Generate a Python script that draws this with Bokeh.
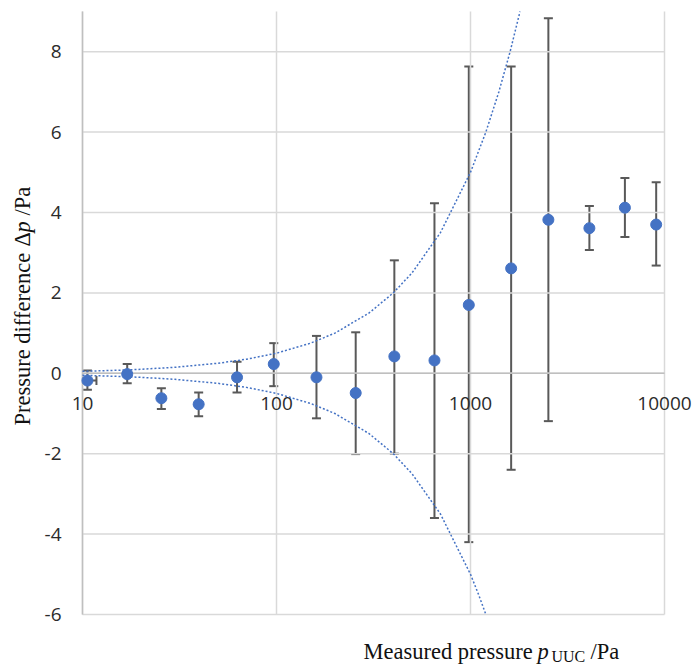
import math
from bokeh.plotting import figure
from bokeh.models import ColumnDataSource, Whisker, TeeHead, Range1d
from bokeh.core.properties import value
from bokeh.embed import file_html
from bokeh.resources import INLINE

# ---- data ----
pressure = [10.6, 17.0, 25.5, 39.7, 62.6, 96.8, 160.7, 256.0, 405.0, 652.0,
            980.0, 1620.0, 2520.0, 4100.0, 6250.0, 9060.0]
delta_p = [-0.18, -0.02, -0.62, -0.77, -0.10, 0.23, -0.10, -0.49, 0.42, 0.32,
           1.70, 2.61, 3.82, 3.61, 4.12, 3.70]
err_upper = [0.07, 0.23, -0.37, -0.48, 0.29, 0.75, 0.93, 1.02, 2.81, 4.23,
             7.63, 7.63, 8.83, 4.16, 4.86, 4.75]
err_lower = [-0.41, -0.25, -0.89, -1.07, -0.48, -0.32, -1.12, -2.01, -2.00, -3.60,
             -4.20, -2.40, -1.19, 3.07, 3.39, 2.68]

# horizontal error bar of the first point
xerr_y = [-0.18]
xerr_lo = [10.0]
xerr_hi = [11.8]

# dotted uncertainty bounds (until they leave the plot area)
upper_bound_x = [10, 15, 20, 30, 50, 70, 100, 150, 200, 300, 400, 500, 700, 1000,
                 1200, 1400, 1600, 1800]
upper_bound_y = [0.05, 0.075, 0.10, 0.15, 0.25, 0.35, 0.50, 0.75, 1.0, 1.5, 2.0,
                 2.5, 3.5, 5.0, 6.0, 7.0, 8.0, 9.0]
lower_bound_x = [10, 15, 20, 30, 50, 70, 100, 150, 200, 300, 400, 500, 700, 1000,
                 1100, 1200]
lower_bound_y = [-0.05, -0.075, -0.10, -0.15, -0.25, -0.35, -0.50, -0.75, -1.0,
                 -1.5, -2.0, -2.5, -3.5, -5.0, -5.5, -6.0]

x_ticks = [10, 100, 1000, 10000]
x_tick_labels = ["10", "100", "1000", "10000"]
y_ticks = [-6, -4, -2, 0, 2, 4, 6, 8]
y_tick_labels = ["-6", "-4", "-2", "0", "2", "4", "6", "8"]

X_MIN, X_MAX = 10, 10000
Y_MIN, Y_MAX = -6, 9

# ---- layout: the frame covers the whole canvas, the plot area is drawn inside ----
W, H = 697, 670
PL, PR, PT, PB = 82, 664, 11, 614          # plot area edges in pixels
DEC = (PR - PL) / math.log10(X_MAX / X_MIN)  # px per decade
UNIT = (PB - PT) / (Y_MAX - Y_MIN)           # px per y unit

x_start = 10 ** (math.log10(X_MIN) - PL / DEC)
x_end = 10 ** (math.log10(X_MAX) + (W - PR) / DEC)
y_end = Y_MAX + PT / UNIT
y_start = Y_MIN - (H - PB) / UNIT

def sx(px):
    return 10 ** (math.log10(X_MIN) + (px - PL) / DEC)

def sy(py):
    return Y_MAX - (py - PT) / UNIT

BLUE = "#4472C4"
GRID = "#d9d9d9"
AXIS = "#bfbfbf"
ERR = "#595959"
TICK_TXT = "#2b2b2b"
TITLE_TXT = "#111111"

p = figure(width=W, height=H, x_axis_type="log",
           x_range=Range1d(x_start, x_end), y_range=Range1d(y_start, y_end),
           output_backend="svg", toolbar_location=None,
           min_border=0)
p.outline_line_color = None
p.background_fill_color = "white"
p.border_fill_color = "white"
p.xaxis.visible = False
p.yaxis.visible = False
p.xgrid.visible = False
p.ygrid.visible = False

# grid lines
n = len(x_ticks)
p.segment(x0=x_ticks, y0=[Y_MIN] * n, x1=x_ticks, y1=[Y_MAX] * n,
          line_color=GRID, line_width=1.5)
m = len(y_ticks)
p.segment(x0=[X_MIN] * m, y0=y_ticks, x1=[X_MAX] * m, y1=y_ticks,
          line_color=GRID, line_width=1.5)
# axis lines: vertical at x=10, horizontal crossing at y=0
p.segment(x0=[X_MIN], y0=[Y_MIN], x1=[X_MIN], y1=[Y_MAX], line_color=AXIS, line_width=1.5)
p.segment(x0=[X_MIN], y0=[0], x1=[X_MAX], y1=[0], line_color=AXIS, line_width=1.5)

# tick labels
p.text(x=x_ticks, y=[sy(402.5)] * n, text=x_tick_labels,
       text_align="center", text_baseline="middle",
       text_font=value("Open Sans"), text_font_size="19px", text_color=TICK_TXT)
p.text(x=[sx(61)] * m, y=y_ticks, text=y_tick_labels,
       text_align="right", text_baseline="middle",
       text_font=value("Open Sans"), text_font_size="19px", text_color=TICK_TXT)

# dotted bounds
p.line(upper_bound_x, upper_bound_y, line_color=BLUE, line_width=1.5, line_dash="2 2")
p.line(lower_bound_x, lower_bound_y, line_color=BLUE, line_width=1.5, line_dash="2 2")

# error bars
src = ColumnDataSource(dict(x=pressure, y=delta_p, upper=err_upper, lower=err_lower))
p.add_layout(Whisker(base="x", upper="upper", lower="lower", source=src,
                     line_color=ERR, line_width=2,
                     upper_head=TeeHead(size=9, line_color=ERR, line_width=2),
                     lower_head=TeeHead(size=9, line_color=ERR, line_width=2)))
hsrc = ColumnDataSource(dict(y=xerr_y, lo=xerr_lo, hi=xerr_hi))
p.add_layout(Whisker(base="y", upper="hi", lower="lo", source=hsrc, dimension="width",
                     line_color=ERR, line_width=2, lower_head=None,
                     upper_head=TeeHead(size=9, line_color=ERR, line_width=2)))

# points
p.scatter("x", "y", source=src, size=11, fill_color=BLUE, line_color=BLUE)

# ---- titles (pieces placed by their visual middle) ----
def add_text(text, px, py, size="22.5px", style="normal", angle=0.0):
    p.text(x=[sx(px)], y=[sy(py)], text=[text], angle=angle,
           text_font=value("Liberation Serif"), text_font_size=size,
           text_font_style=style, text_color=TITLE_TXT,
           text_align="left", text_baseline="middle")

# x title: "Measured pressure p_UUC /Pa"
add_text("Measured pressure", 363, 650.5)
add_text("p", 537, 650.5, style="italic")
add_text("UUC", 551, 656, size="16px")
add_text("/Pa", 590, 650.5)

# y title: "Pressure difference Δp /Pa" (rotated)
A = math.pi / 2
add_text("Pressure difference", 22, 425, angle=A)
add_text("\u0394", 22, 246, angle=A)
add_text("p", 22, 232, style="italic", angle=A)
add_text("/Pa", 22, 215, angle=A)

open("out.html", "w").write(file_html(p, INLINE))
